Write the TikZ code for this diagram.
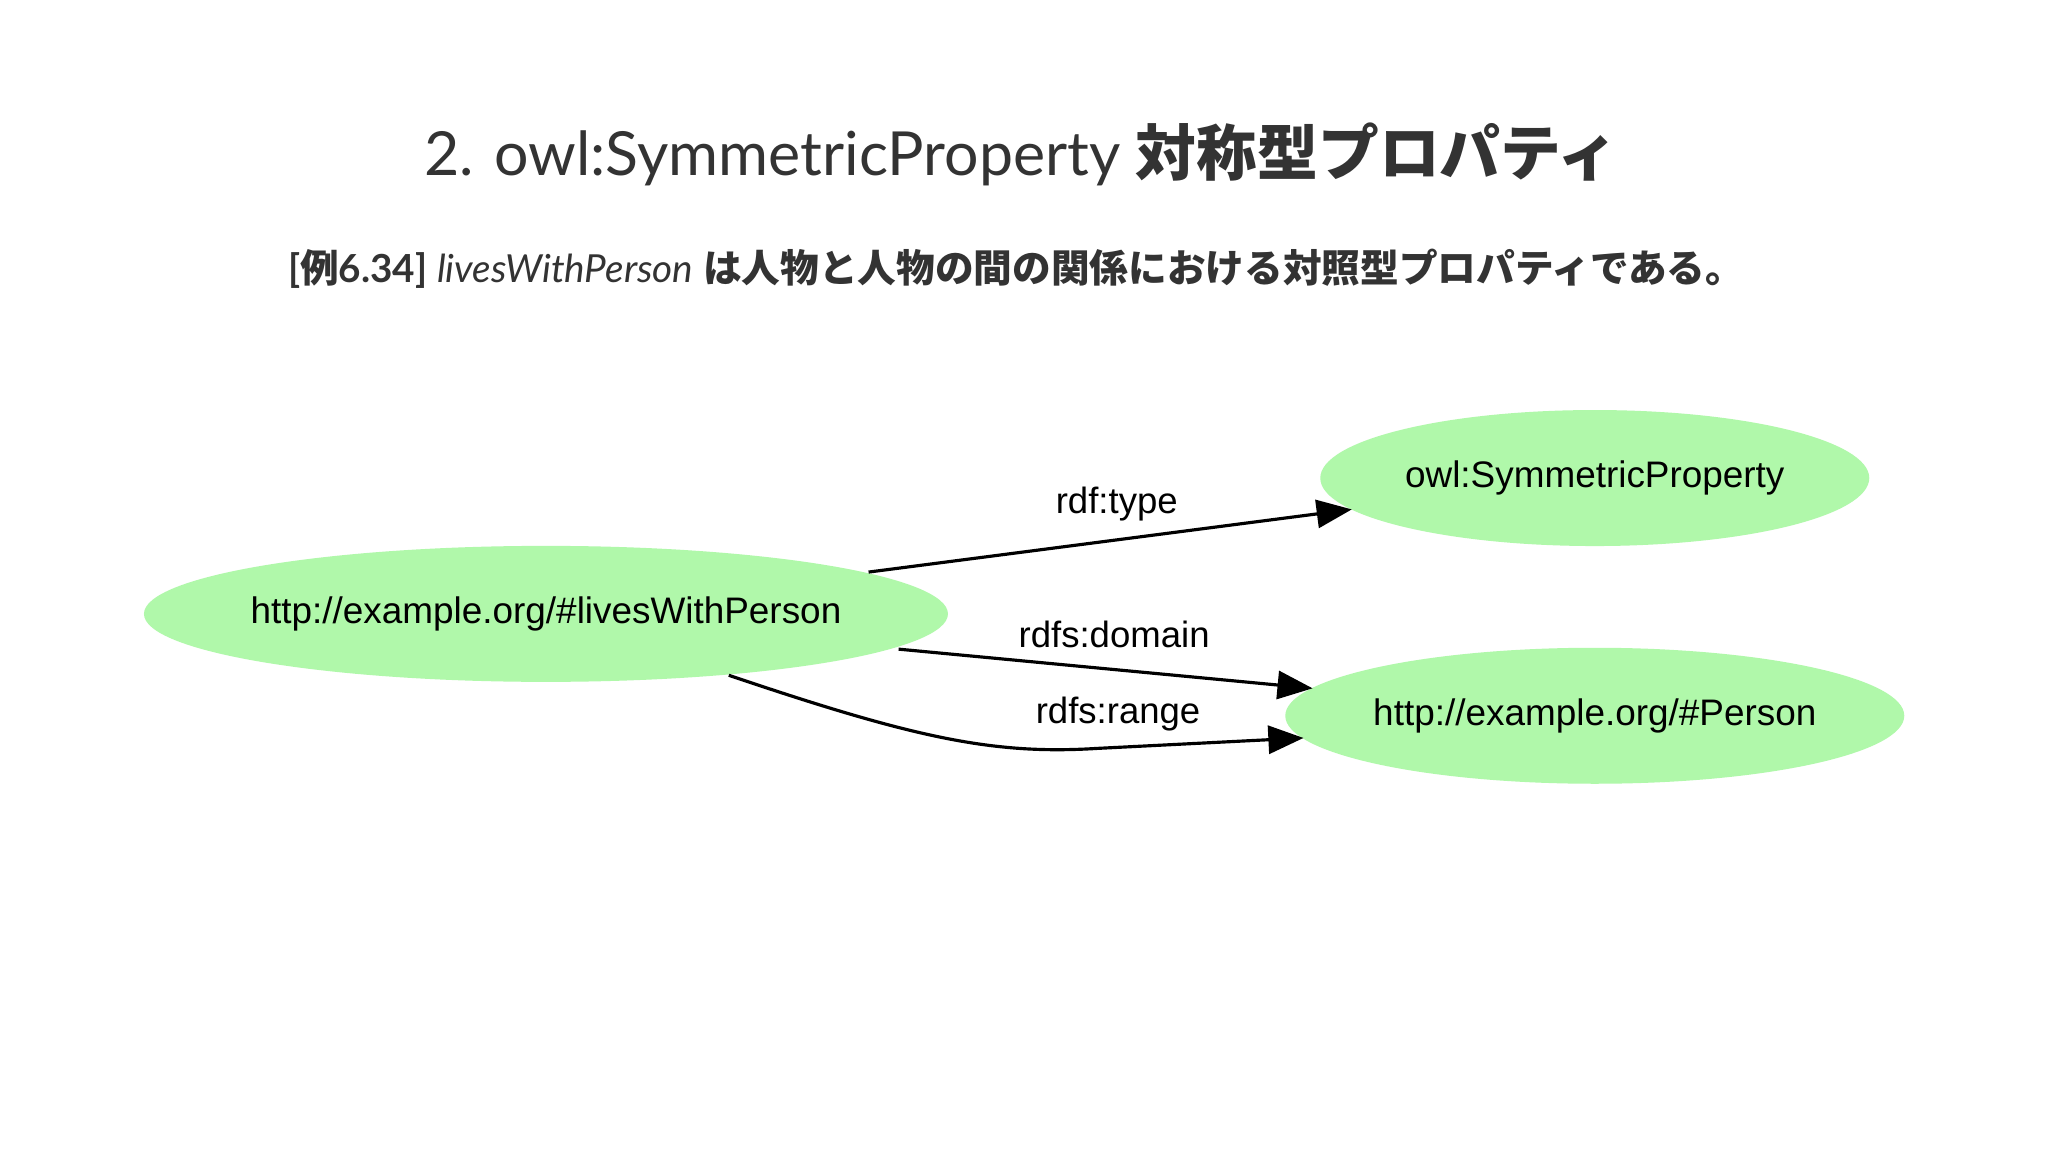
\documentclass[tikz,border=0pt]{standalone}
\usepackage{fontspec}
\setmainfont{Lato}
\newfontfamily\lib{Liberation Sans}
\newfontfamily\cjk{Noto Sans CJK JP}
\usetikzlibrary{arrows.meta,shapes.geometric}
\definecolor{nodegreen}{HTML}{B0F8AA}
\definecolor{titlegray}{HTML}{333333}
\tikzset{
 gnode/.style={ellipse, fill=nodegreen, inner sep=0pt, minimum height=1.36cm},
 ntext/.style={font=\lib\fontsize{10.5}{12}\selectfont},
 elabel/.style={font=\lib\fontsize{10.4}{12}\selectfont},
 edge/.style={-{Triangle[length=10pt,width=8pt]}, line width=0.9pt, black}
}
\begin{document}
\begin{tikzpicture}[x=0.01306cm,y=-0.01306cm]
\useasboundingbox (0,0) rectangle (1568,882);
\fill[white] (0,0) rectangle (1568,882);
\node[text=titlegray, font=\fontsize{17.3}{21}\selectfont] (title) at (782,118) {2. owl:SymmetricProperty {\cjk\bfseries 対称型プロパティ}};
\node[text=titlegray, font=\fontsize{11}{14}\selectfont] (sub) at (778,206) {\textbf{[{\cjk\bfseries 例}6.34]} \textit{livesWithPerson} {\cjk\bfseries は人物と人物の間の関係における対照型プロパティである。}};
\node[gnode, minimum width=8.04cm] (a) at (418,470) {};
\node[gnode, minimum width=5.49cm] (b) at (1221,366) {};
\node[gnode, minimum width=6.19cm] (c) at (1221,548) {};
\node[ntext] (at) at (a) {http://example.org/\#livesWithPerson};
\node[ntext] (bt) at (b) {owl:SymmetricProperty};
\node[ntext] (ct) at (c) {http://example.org/\#Person};
\coordinate (a1) at (665,438);
\coordinate (b1) at (1035,390);
\coordinate (a2) at (688,497);
\coordinate (c1) at (1005,527);
\coordinate (a3) at (558,517);
\coordinate (c2) at (998,565);
\draw[edge] (a1) -- (b1);
\draw[edge] (a2) -- (c1);
\draw[edge] (a3) .. controls (700,565) and (760,578) .. (840,573) -- (c2);
\node[elabel] (l1) at (855,386) {rdf:type};
\node[elabel] (l2) at (853,486) {rdfs:domain};
\node[elabel] (l3) at (856,547) {rdfs:range};
\end{tikzpicture}
\end{document}
